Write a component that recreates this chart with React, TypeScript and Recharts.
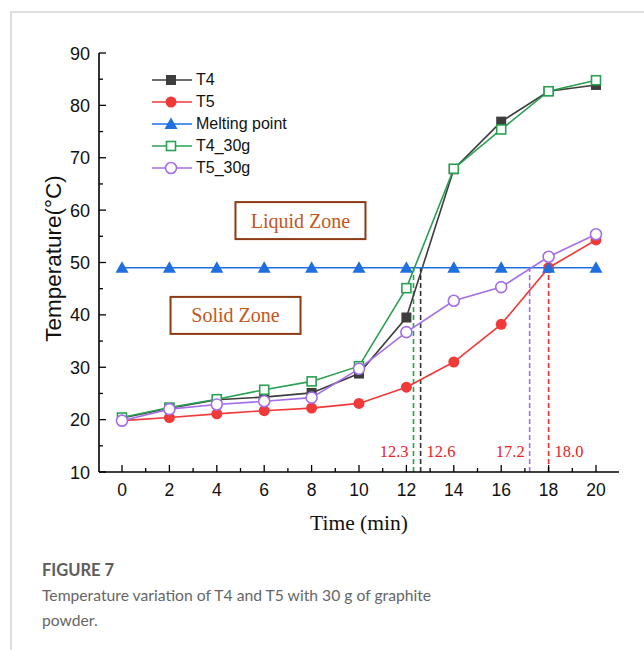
import {
  ComposedChart,
  Legend,
  Line,
  ReferenceDot,
  ReferenceLine,
  XAxis,
  YAxis,
} from "recharts";

const TIME = [0, 2, 4, 6, 8, 10, 12, 14, 16, 18, 20];
const T4 = [20.3, 22.2, 23.8, 24.3, 25.1, 28.8, 39.5, 67.8, 76.9, 82.7, 83.9];
const T5 = [19.8, 20.4, 21.1, 21.7, 22.2, 23.1, 26.2, 31.0, 38.2, 49.0, 54.3];
const MELTING = [49, 49, 49, 49, 49, 49, 49, 49, 49, 49, 49];
const T4_30G = [20.4, 22.3, 23.9, 25.7, 27.3, 30.2, 45.1, 67.9, 75.4, 82.7, 84.8];
const T5_30G = [19.8, 22.0, 22.9, 23.5, 24.2, 29.7, 36.7, 42.7, 45.3, 51.1, 55.4];

const X_TICKS = [0, 1, 2, 3, 4, 5, 6, 7, 8, 9, 10, 11, 12, 13, 14, 15, 16, 17, 18, 19, 20];
const Y_TICKS = [10, 15, 20, 25, 30, 35, 40, 45, 50, 55, 60, 65, 70, 75, 80, 85, 90];

// crossing times with the melting point
const CROSS_TIMES = [12.3, 12.6, 17.2, 18.0];
const CROSS_LABELS = ["12.3", "12.6", "17.2", "18.0"];
const CROSS_COLORS = ["#27a04f", "#333333", "#a36ee6", "#ee2a2a"];
const CROSS_SIDE = ["left", "right", "left", "right"];

const ZONE_LABELS = ["Liquid Zone", "Solid Zone"];
const ZONE_X = [7.53, 4.79];
const ZONE_Y = [58.0, 39.9];

const MELT_T = 49;

const data = TIME.map((t, i) => ({
  time: t,
  t4: T4[i],
  t5: T5[i],
  melt: MELTING[i],
  t4g: T4_30G[i],
  t5g: T5_30G[i],
}));

type Kind = "square" | "circle" | "triangle" | "hsquare" | "hcircle";

const SERIES: { key: string; name: string; color: string; kind: Kind }[] = [
  { key: "t4", name: "T4", color: "#3d3d3d", kind: "square" },
  { key: "t5", name: "T5", color: "#f03a3a", kind: "circle" },
  { key: "melt", name: "Melting point", color: "#1f6fe0", kind: "triangle" },
  { key: "t4g", name: "T4_30g", color: "#2aa052", kind: "hsquare" },
  { key: "t5g", name: "T5_30g", color: "#a56ee6", kind: "hcircle" },
];

const SANS = "'Liberation Sans', Arial, sans-serif";
const SERIF = "'Liberation Serif', 'Times New Roman', serif";

function Marker({ cx, cy, kind, color }: { cx: number; cy: number; kind: Kind; color: string }) {
  if (kind === "square") return <rect x={cx - 5} y={cy - 5} width={10} height={10} fill={color} />;
  if (kind === "circle") return <circle cx={cx} cy={cy} r={5.5} fill={color} />;
  if (kind === "triangle")
    return <polygon points={`${cx},${cy - 6.5} ${cx - 6.5},${cy + 5} ${cx + 6.5},${cy + 5}`} fill={color} />;
  if (kind === "hsquare")
    return <rect x={cx - 4.5} y={cy - 4.5} width={9} height={9} fill="#fff" stroke={color} strokeWidth={1.6} />;
  return <circle cx={cx} cy={cy} r={5.5} fill="#fff" stroke={color} strokeWidth={1.6} />;
}

const dotFor = (kind: Kind, color: string) => (props: any) => (
  <Marker key={`${kind}-${props.index}`} cx={props.cx} cy={props.cy} kind={kind} color={color} />
);

const XTick = (props: any) => {
  const { x, y, payload } = props;
  const major = payload.value % 2 === 0;
  return (
    <g>
      <line x1={x} x2={x} y1={y} y2={y - (major ? 7 : 4)} stroke="#000" strokeWidth={1.3} />
      {major && (
        <text x={x} y={y + 24} textAnchor="middle" fontFamily={SANS} fontSize={17.5} fill="#111">
          {payload.value}
        </text>
      )}
    </g>
  );
};

const YTick = (props: any) => {
  const { x, y, payload } = props;
  const major = payload.value % 10 === 0;
  return (
    <g>
      <line x1={x} x2={x + (major ? 7 : 4)} y1={y} y2={y} stroke="#000" strokeWidth={1.3} />
      {major && (
        <text x={x - 9} y={y + 6.5} textAnchor="end" fontFamily={SANS} fontSize={18} fill="#111">
          {payload.value}
        </text>
      )}
    </g>
  );
};

function LegendBox() {
  return (
    <div style={{ fontFamily: SANS, fontSize: 16, color: "#111" }}>
      {SERIES.map((s) => (
        <div key={s.key} style={{ display: "flex", alignItems: "center", height: 22 }}>
          <svg width={46} height={16}>
            <line x1={2} x2={42} y1={8} y2={8} stroke={s.color} strokeWidth={1.6} />
            <Marker cx={21} cy={8} kind={s.kind} color={s.color} />
          </svg>
          <span>{s.name}</span>
        </div>
      ))}
    </div>
  );
}

export default function App() {
  return (
    <div style={{ position: "absolute", left: 0, top: 0, width: 644, height: 650, background: "#fff" }}>
      <div
        style={{
          position: "absolute",
          left: 10,
          top: 11,
          width: 640,
          height: 650,
          borderLeft: "2px solid #dedede",
          borderTop: "2px solid #dedede",
        }}
      />
      <div style={{ position: "absolute", left: 0, top: 0 }}>
        <ComposedChart width={644} height={540} data={data} margin={{ top: 53, right: 25, bottom: 8, left: 0 }}>
          <XAxis
            dataKey="time"
            type="number"
            domain={[0, 20]}
            ticks={X_TICKS}
            interval={0}
            padding={{ left: 23, right: 23 }}
            height={60}
            tickSize={0}
            tickMargin={0}
            tickLine={false}
            tick={XTick}
            axisLine={{ stroke: "#000", strokeWidth: 1.6 }}
            label={{
              content: ({ viewBox }: any) => (
                <text
                  x={viewBox.x + viewBox.width / 2}
                  y={viewBox.y + 58}
                  textAnchor="middle"
                  fontFamily={SERIF}
                  fontSize={21.5}
                  fill="#111"
                >
                  Time (min)
                </text>
              ),
            }}
          />
          <XAxis
            xAxisId="top"
            dataKey="time"
            type="number"
            domain={[0, 20]}
            orientation="top"
            height={0}
            tick={false}
            tickLine={false}
            axisLine={{ stroke: "#222", strokeWidth: 1.6 }}
          />
          <YAxis
            type="number"
            domain={[10, 90]}
            ticks={Y_TICKS}
            interval={0}
            width={99}
            tickSize={0}
            tickMargin={0}
            tickLine={false}
            tick={YTick}
            axisLine={{ stroke: "#000", strokeWidth: 1.6 }}
            label={{
              content: ({ viewBox }: any) => (
                <text
                  transform={`translate(${viewBox.x + 61} ${viewBox.y + viewBox.height / 2 - 4}) rotate(-90)`}
                  textAnchor="middle"
                  fontFamily={SANS}
                  fontSize={22.5}
                  fill="#111"
                >
                  Temperature(°C)
                </text>
              ),
            }}
          />
          <YAxis
            yAxisId="right"
            orientation="right"
            type="number"
            domain={[10, 90]}
            width={0}
            tick={false}
            tickLine={false}
            axisLine={{ stroke: "#222", strokeWidth: 1.6 }}
          />

          {CROSS_TIMES.map((t, i) => (
            <ReferenceLine
              key={`cl-${i}`}
              segment={[
                { x: t, y: 10 },
                { x: t, y: MELT_T },
              ]}
              stroke={CROSS_COLORS[i]}
              strokeWidth={1.6}
              strokeDasharray="5 3"
            />
          ))}
          {CROSS_TIMES.map((t, i) => (
            <ReferenceDot
              key={`ct-${i}`}
              x={t}
              y={14}
              r={0}
              shape={(p: any) => (
                <text
                  x={CROSS_SIDE[i] === "left" ? p.cx - 5 : p.cx + 6}
                  y={p.cy + 6}
                  textAnchor={CROSS_SIDE[i] === "left" ? "end" : "start"}
                  fontFamily={SERIF}
                  fontSize={16.5}
                  fill="#e8232a"
                >
                  {CROSS_LABELS[i]}
                </text>
              )}
            />
          ))}
          {ZONE_LABELS.map((z, i) => (
            <ReferenceDot
              key={`z-${i}`}
              x={ZONE_X[i]}
              y={ZONE_Y[i]}
              r={0}
              shape={(p: any) => (
                <g>
                  <rect
                    x={p.cx - 65}
                    y={p.cy - 18.5}
                    width={130}
                    height={37}
                    fill="#fff"
                    stroke="#8b3a12"
                    strokeWidth={2}
                  />
                  <text
                    x={p.cx}
                    y={p.cy + 7}
                    textAnchor="middle"
                    fontFamily={SERIF}
                    fontSize={20}
                    fill="#c4561c"
                  >
                    {z}
                  </text>
                </g>
              )}
            />
          ))}

          {SERIES.map((s) => (
            <Line
              key={s.key}
              dataKey={s.key}
              name={s.name}
              type="linear"
              stroke={s.color}
              strokeWidth={1.6}
              dot={dotFor(s.kind, s.color)}
              activeDot={false}
              isAnimationActive={false}
            />
          ))}

          <Legend
            layout="vertical"
            align="center"
            verticalAlign="middle"
            wrapperStyle={{ left: 150, top: 69, width: 200 }}
            content={() => <LegendBox />}
          />
        </ComposedChart>
      </div>
      <div
        style={{
          position: "absolute",
          left: 42,
          top: 558,
          fontFamily: "Lato, 'Open Sans', sans-serif",
          color: "#666",
          fontSize: 15.7,
          lineHeight: "25px",
        }}
      >
        <div style={{ fontWeight: 700, color: "#5c5c5c", fontSize: 16.5 }}>FIGURE 7</div>
        <div>
          Temperature variation of T4 and T5 with 30 g of graphite
          <br />
          powder.
        </div>
      </div>
    </div>
  );
}
